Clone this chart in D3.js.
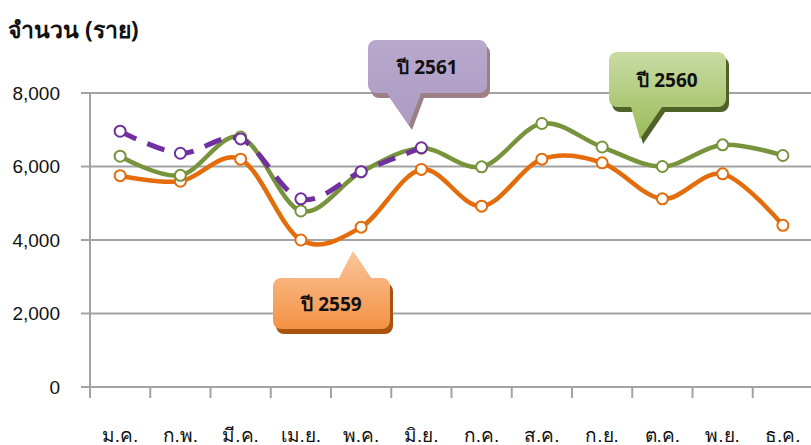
<!DOCTYPE html>
<html>
<head>
<meta charset="utf-8">
<script src="https://cdn.jsdelivr.net/npm/d3@7"></script>
<style>
  body { margin: 0; background: #fff; }
  svg { display: block; font-family: "Noto Sans", "DejaVu Sans", sans-serif; }
</style>
</head>
<body>
<svg id="chart"></svg>
<script>
const months = ['ม.ค.', 'ก.พ.', 'มี.ค.', 'เม.ย.', 'พ.ค.', 'มิ.ย.', 'ก.ค.', 'ส.ค.', 'ก.ย.', 'ต.ค.', 'พ.ย.', 'ธ.ค.'];
const y2559 = [5750, 5600, 6200, 4000, 4350, 5920, 4920, 6200, 6100, 5120, 5800, 4400];
const y2560 = [6280, 5760, 6800, 4790, 5850, 6500, 5990, 7170, 6530, 6000, 6590, 6300];
const y2561 = [6960, 6360, 6750, 5120, 5860, 6510];
const yTicks = [0, 2000, 4000, 6000, 8000];

const w = 811; // svg width
const h = 445; // svg height
const padLeft = 90; // y axis position
const padRight = 813;
const padTop = 93; // 8,000 line
const padBottom = 387; // 0 line

const svg = d3.select('#chart').attr('width', w).attr('height', h);

const xScale = d3.scaleBand().domain(months).range([padLeft, padRight]);
const yScale = d3.scaleLinear().domain([0, 8000]).range([padBottom, padTop]);
const cx = (i) => xScale(months[i]) + xScale.bandwidth() / 2;

// Title
svg.append('text')
  .attr('x', 8).attr('y', 38)
  .attr('font-size', 23).attr('font-weight', 'bold')
  .attr('fill', '#111')
  .text('จำนวน (ราย)');

// gridlines
svg.append('g')
  .selectAll('line')
  .data(yTicks)
  .enter()
  .append('line')
  .attr('x1', 81).attr('x2', w)
  .attr('y1', (d) => yScale(d)).attr('y2', (d) => yScale(d))
  .attr('stroke', '#a3a3a3').attr('stroke-width', 2);

// y axis
const yAxis = d3.axisLeft(yScale).tickValues(yTicks).tickSize(0).tickPadding(30)
  .tickFormat(d3.format(','));
svg.append('g')
  .attr('transform', 'translate(' + padLeft + ',0)')
  .call(yAxis)
  .call((g) => g.select('.domain').remove())
  .call((g) => g.selectAll('text').attr('font-size', 19).attr('fill', '#111'));
svg.append('line')
  .attr('x1', padLeft).attr('x2', padLeft)
  .attr('y1', padTop).attr('y2', padBottom + 11)
  .attr('stroke', '#a3a3a3').attr('stroke-width', 2);

// x axis
const xAxis = d3.axisBottom(xScale).tickSize(0).tickPadding(42);
svg.append('g')
  .attr('transform', 'translate(0,' + padBottom + ')')
  .call(xAxis)
  .call((g) => g.select('.domain').remove())
  .call((g) => g.selectAll('text').attr('font-size', 19).attr('fill', '#111'));
svg.append('g')
  .selectAll('line')
  .data(months)
  .enter()
  .append('line')
  .attr('x1', (d) => xScale(d)).attr('x2', (d) => xScale(d))
  .attr('y1', padBottom).attr('y2', padBottom + 11)
  .attr('stroke', '#a3a3a3').attr('stroke-width', 2);

// series
const line = d3.line()
  .x((d, i) => cx(i))
  .y((d) => yScale(d))
  .curve(d3.curveCardinal.tension(0));

function drawSeries(values, color, dashed) {
  const g = svg.append('g');
  g.append('path')
    .datum(values)
    .attr('d', line)
    .attr('fill', 'none')
    .attr('stroke', color)
    .attr('stroke-width', dashed ? 5 : 4.5)
    .attr('stroke-dasharray', dashed ? '18,12' : null);
  g.selectAll('circle')
    .data(values)
    .enter()
    .append('circle')
    .attr('cx', (d, i) => cx(i))
    .attr('cy', (d) => yScale(d))
    .attr('r', 5.5)
    .attr('fill', '#fff')
    .attr('stroke', color)
    .attr('stroke-width', 2);
}

drawSeries(y2559, '#e46c0a', false);
drawSeries(y2560, '#77933c', false);
drawSeries(y2561, '#7030a0', true);

// callouts
const defs = svg.append('defs');
function grad(id, c1, c2) {
  const lg = defs.append('linearGradient').attr('id', id)
    .attr('x1', 0).attr('y1', 0).attr('x2', 0).attr('y2', 1);
  lg.append('stop').attr('offset', '0%').attr('stop-color', c1);
  lg.append('stop').attr('offset', '100%').attr('stop-color', c2);
}
grad('gOrange', '#fbc59a', '#f39245');
grad('gGreen', '#c9dca4', '#9bbb59');
grad('gPurple', '#b8a8cb', '#ad9bc4');

function calloutPath(x, y, bw, bh, r, b1, b2, tx, ty) {
  const p = d3.path();
  const down = ty > y + bh;
  p.moveTo(x + r, y);
  if (!down) { p.lineTo(b1, y); p.lineTo(tx, ty); p.lineTo(b2, y); }
  p.lineTo(x + bw - r, y);
  p.arcTo(x + bw, y, x + bw, y + r, r);
  p.lineTo(x + bw, y + bh - r);
  p.arcTo(x + bw, y + bh, x + bw - r, y + bh, r);
  if (down) { p.lineTo(b2, y + bh); p.lineTo(tx, ty); p.lineTo(b1, y + bh); }
  p.lineTo(x + r, y + bh);
  p.arcTo(x, y + bh, x, y + bh - r, r);
  p.lineTo(x, y + r);
  p.arcTo(x, y, x + r, y, r);
  p.closePath();
  return p.toString();
}

function callout(c) {
  const d = calloutPath(c.x, c.y, c.w, c.h, 8, c.b1, c.b2, c.tx, c.ty);
  svg.append('path').attr('d', d).attr('fill', c.shadow)
    .attr('transform', 'translate(3,5)');
  svg.append('path').attr('d', d).attr('fill', c.fill);
  svg.append('text')
    .attr('x', c.x + c.w / 2).attr('y', c.y + c.h / 2 + 7)
    .attr('text-anchor', 'middle')
    .attr('font-size', 19).attr('font-weight', 'bold').attr('fill', '#111')
    .text(c.label);
}

callout({ label: 'ปี 2561', x: 368, y: 40, w: 119, h: 53, b1: 387, b2: 421, tx: 409, ty: 125, fill: 'url(#gPurple)', shadow: '#9d7f86' });
callout({ label: 'ปี 2560', x: 609, y: 52, w: 117, h: 55, b1: 631, b2: 662, tx: 640, ty: 139, fill: 'url(#gGreen)', shadow: '#4f6228' });
callout({ label: 'ปี 2559', x: 273, y: 278, w: 117, h: 51, b1: 339, b2: 371, tx: 353, ty: 251, fill: 'url(#gOrange)', shadow: '#a8540f' });
</script>
</body>
</html>
